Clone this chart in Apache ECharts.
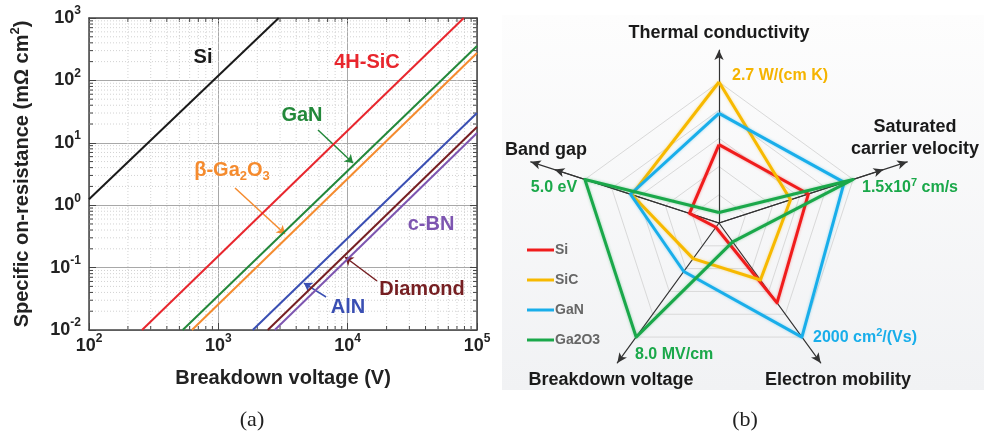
<!DOCTYPE html>
<html>
<head>
<meta charset="utf-8">
<script src="https://cdn.jsdelivr.net/npm/echarts@6/dist/echarts.min.js"></script>
<style>
  html, body { margin: 0; padding: 0; background: #fff; }
  #chart { width: 984px; height: 435px; }
</style>
</head>
<body>
<div id="chart"></div>
<script>
// ---------- (a) specific on-resistance limit lines: [breakdown V, mΩ·cm²] end points ----------
const siRon      = [[100, 1.25], [2930, 1000]];
const sicRon     = [[257, 0.01], [79000, 1000]];
const ganRon     = [[530, 0.01], [100000, 355]];
const ga2o3Ron   = [[625, 0.01], [100000, 275]];
const alnRon     = [[1845, 0.01], [100000, 30]];
const diamondRon = [[2410, 0.01], [100000, 17.9]];
const cbnRon     = [[2730, 0.01], [100000, 14.4]];

// decade tick exponents and minor steps inside each decade
const xTickExps = [2, 3, 4, 5];
const yTickExps = [-2, -1, 0, 1, 2, 3];
const minorSteps = [2, 3, 4, 5, 6, 7, 8, 9];

// ---------- (b) material property radar ----------
const radarAxes = ['Thermal conductivity', 'Band gap', 'Breakdown voltage', 'Electron mobility', 'Saturated carrier velocity'];
const radarMax  = [2.7, 5.0, 8.0, 2000, 1.5];
const siProps    = [1.5, 1.1, 0.3, 1400, 1.0];
const sicProps   = [2.7, 3.25, 2.5, 1000, 0.8];
const ganProps   = [2.1, 3.3, 3.4, 2000, 1.4];
const ga2o3Props = [0.2, 5.0, 8.0, 330, 1.5];
const radarNames = ['Si', 'SiC', 'GaN', 'Ga2O3'];

const FONT = "'Liberation Sans', Arial, sans-serif";

const chart = echarts.init(document.getElementById('chart'), null, { renderer: 'canvas' });

const X_MIN = Math.pow(10, xTickExps[0]), X_MAX = Math.pow(10, xTickExps[xTickExps.length - 1]);
const Y_MIN = Math.pow(10, yTickExps[0]), Y_MAX = Math.pow(10, yTickExps[yTickExps.length - 1]);

// minor decade positions for the dotted grid
const xMinor = [], yMinor = [];
xTickExps.slice(0, -1).forEach(e => minorSteps.forEach(s => xMinor.push([s * Math.pow(10, e), 1])));
yTickExps.slice(0, -1).forEach(e => minorSteps.forEach(s => yMinor.push([1000, s * Math.pow(10, e)])));

const powRich = {
  b: { fontFamily: FONT, fontWeight: 'bold', fontSize: 18, color: '#222', lineHeight: 22 },
  s: { fontFamily: FONT, fontWeight: 'bold', fontSize: 12, color: '#222', lineHeight: 22, padding: [0, 0, 14, 0] }
};
function powLabel(exps) {
  return function (v) {
    const e = Math.round(Math.log10(v));
    if (exps.indexOf(e) < 0) return '';
    return '{b|10}{s|' + e + '}';
  };
}

function minorRender(isX) {
  return function (params, api) {
    const v = api.value(isX ? 0 : 1);
    let a, b;
    if (isX) { a = api.coord([v, Y_MIN]); b = api.coord([v, Y_MAX]); }
    else { a = api.coord([X_MIN, v]); b = api.coord([X_MAX, v]); }
    const grid = { stroke: '#d2d2d2', lineWidth: 1, lineDash: [1, 2] };
    const tick = { stroke: '#444', lineWidth: 1 };
    const L = 4;
    const children = [{ type: 'line', shape: { x1: a[0], y1: a[1], x2: b[0], y2: b[1] }, style: grid }];
    if (isX) {
      children.push({ type: 'line', shape: { x1: a[0], y1: a[1], x2: a[0], y2: a[1] - L }, style: tick });
      children.push({ type: 'line', shape: { x1: b[0], y1: b[1], x2: b[0], y2: b[1] + L }, style: tick });
    } else {
      children.push({ type: 'line', shape: { x1: a[0], y1: a[1], x2: a[0] + L, y2: a[1] }, style: tick });
      children.push({ type: 'line', shape: { x1: b[0], y1: b[1], x2: b[0] - L, y2: b[1] }, style: tick });
    }
    return { type: 'group', children: children };
  };
}

function limitLine(name, data, color, arrow) {
  const s = {
    name: name, type: 'line', data: data, showSymbol: false, symbol: 'none',
    xAxisIndex: 0, yAxisIndex: 0, z: 5,
    lineStyle: { color: color, width: 2 }, itemStyle: { color: color }
  };
  if (arrow) {
    s.markLine = {
      silent: true, symbol: ['none', 'arrow'], symbolSize: 8, animation: false,
      label: { show: false },
      lineStyle: { color: color, width: 1.5, type: 'solid' },
      data: [[{ coord: arrow[0] }, { coord: arrow[1] }]]
    };
  }
  return s;
}

const axisCommon = {
  type: 'log', logBase: 10,
  axisLine: { show: true, lineStyle: { color: '#444', width: 1.5 } },
  axisTick: { show: true, inside: true, length: 7, lineStyle: { color: '#444', width: 1 } },
  minorTick: { show: false },
  splitLine: { show: false }
};

function txt(x, y, text, color, size, opts) {
  opts = opts || {};
  return {
    type: 'text', x: x, y: y, z: 100, silent: true,
    style: Object.assign({
      text: text, fill: color, font: 'bold ' + size + 'px ' + FONT,
      textAlign: opts.align || 'center', textVerticalAlign: 'middle'
    }, opts.style || {})
  };
}

const radarColors = ['#f01c1c', '#f7b900', '#19aeea', '#1aa84a'];
const radarData = [siProps, sicProps, ganProps, ga2o3Props].map((v, i) => ({
  name: radarNames[i], value: v,
  lineStyle: { color: radarColors[i], width: 3, shadowBlur: 3, shadowColor: echarts.color.modifyAlpha(radarColors[i], 0.4) },
  itemStyle: { color: radarColors[i] }
}));
const indicators = radarAxes.map((n, i) => ({ name: n, max: radarMax[i] }));

const RC = [719, 223];
const arrowAxis = {
  show: true, symbol: ['none', 'arrow'], symbolSize: [7, 10],
  lineStyle: { color: '#333', width: 1.2 }
};

const option = {
  animation: false,
  backgroundColor: '#fff',
  grid: [{ left: 89, right: 507, top: 18, bottom: 105 }],
  xAxis: [
    Object.assign({}, axisCommon, {
      gridIndex: 0, position: 'bottom', min: X_MIN, max: X_MAX,
      splitLine: { show: true, lineStyle: { color: '#a8a8a8', width: 1 } },
      axisLabel: { formatter: powLabel(xTickExps), rich: powRich, margin: 5 },
      name: 'Breakdown voltage (V)', nameLocation: 'middle', nameGap: 38,
      nameTextStyle: { fontFamily: FONT, fontWeight: 'bold', fontSize: 20, color: '#222' }
    }),
    Object.assign({}, axisCommon, { gridIndex: 0, position: 'top', min: X_MIN, max: X_MAX, axisLabel: { show: false } })
  ],
  yAxis: [
    Object.assign({}, axisCommon, {
      gridIndex: 0, position: 'left', min: Y_MIN, max: Y_MAX,
      splitLine: { show: true, lineStyle: { color: '#a8a8a8', width: 1 } },
      axisLabel: { formatter: powLabel(yTickExps), rich: powRich, margin: 8 },
      name: '{t|Specific on-resistance (mΩ cm}{u|2}{t|)}', nameLocation: 'middle', nameGap: 55,
      nameTextStyle: {
        rich: {
          t: { fontFamily: FONT, fontWeight: 'bold', fontSize: 20, color: '#222', lineHeight: 24 },
          u: { fontFamily: FONT, fontWeight: 'bold', fontSize: 13, color: '#222', lineHeight: 24, padding: [0, 0, 14, 0] }
        }
      }
    }),
    Object.assign({}, axisCommon, { gridIndex: 0, position: 'right', min: Y_MIN, max: Y_MAX, axisLabel: { show: false } })
  ],
  radar: [
    {
      center: RC, radius: 141, startAngle: 90, splitNumber: 5, shape: 'polygon',
      indicator: indicators,
      axisName: { show: false },
      axisLine: { show: false },
      splitLine: { show: true, lineStyle: { color: '#d9d9d9', width: 1 } },
      splitArea: { show: false }
    },
    {
      center: RC, radius: 173, startAngle: 90, splitNumber: 1, shape: 'polygon',
      indicator: indicators,
      axisName: { show: false }, axisLine: arrowAxis,
      splitLine: { show: false }, splitArea: { show: false }
    },
    {
      center: RC, radius: 198, startAngle: 18, splitNumber: 1, shape: 'polygon',
      indicator: [indicators[4]],
      axisName: { show: false }, axisLine: arrowAxis,
      splitLine: { show: false }, splitArea: { show: false }
    },
    {
      center: RC, radius: 198, startAngle: 162, splitNumber: 1, shape: 'polygon',
      indicator: [indicators[1]],
      axisName: { show: false }, axisLine: arrowAxis,
      splitLine: { show: false }, splitArea: { show: false }
    }
  ],
  legend: {
    data: radarNames, orient: 'vertical', left: 522, top: 237,
    icon: 'rect', itemWidth: 27, itemHeight: 3, itemGap: 14, selectedMode: false,
    textStyle: { fontFamily: FONT, fontWeight: 'bold', fontSize: 14, color: '#666', lineHeight: 16, padding: [0, 0, 0, -4] }
  },
  series: [
    { type: 'custom', name: 'minor-x', coordinateSystem: 'cartesian2d', xAxisIndex: 0, yAxisIndex: 0,
      data: xMinor, renderItem: minorRender(true), silent: true, z: 1 },
    { type: 'custom', name: 'minor-y', coordinateSystem: 'cartesian2d', xAxisIndex: 0, yAxisIndex: 0,
      data: yMinor, renderItem: minorRender(false), silent: true, z: 1 },
    limitLine('Si limit', siRon, '#1a1a1a'),
    limitLine('4H-SiC limit', sicRon, '#e8262d'),
    limitLine('GaN limit', ganRon, '#23883a', [[5900, 16.0], [11000, 4.74]]),
    limitLine('β-Ga2O3 limit', ga2o3Ron, '#f58b2e', [[1346, 1.89], [3278, 0.345]]),
    limitLine('AlN limit', alnRon, '#3a4fb3', [[6810, 0.0338], [4590, 0.0566]]),
    limitLine('Diamond limit', diamondRon, '#761f22', [[16870, 0.061], [9530, 0.148]]),
    limitLine('c-BN limit', cbnRon, '#7d55b0'),
    {
      type: 'radar', radarIndex: 0, symbol: 'none', z: 3,
      data: radarData
    }
  ],
  graphic: [
    {
      type: 'rect', z: -10, silent: true,
      shape: { x: 502, y: 15, width: 482, height: 375 },
      style: {
        fill: new echarts.graphic.LinearGradient(0, 0, 0, 1, [
          { offset: 0, color: '#fdfdfd' }, { offset: 1, color: '#f1f2f4' }
        ])
      }
    },
    // (a) curve labels
    txt(203, 57, 'Si', '#1a1a1a', 20),
    txt(367, 62, '4H-SiC', '#e8262d', 20),
    txt(302, 115, 'GaN', '#23883a', 20),
    {
      type: 'text', x: 232, y: 170, z: 100, silent: true,
      style: {
        text: '{t|β-Ga}{d|2}{t|O}{d|3}', textAlign: 'center', textVerticalAlign: 'middle',
        rich: {
          t: { fontFamily: FONT, fontWeight: 'bold', fontSize: 20, fill: '#f58b2e', color: '#f58b2e', lineHeight: 24 },
          d: { fontFamily: FONT, fontWeight: 'bold', fontSize: 13, fill: '#f58b2e', color: '#f58b2e', lineHeight: 24, padding: [12, 0, 0, 0] }
        }
      }
    },
    txt(431, 224, 'c-BN', '#7d55b0', 20),
    txt(422, 289, 'Diamond', '#761f22', 20),
    txt(348, 307, 'AlN', '#3a4fb3', 20),
    // (b) axis titles
    txt(719, 33, 'Thermal conductivity', '#1a1a1a', 18),
    txt(546, 150, 'Band gap', '#1a1a1a', 18),
    txt(915, 127, 'Saturated', '#1a1a1a', 18),
    txt(915, 149, 'carrier velocity', '#1a1a1a', 18),
    txt(611, 380, 'Breakdown voltage', '#1a1a1a', 18),
    txt(838, 380, 'Electron mobility', '#1a1a1a', 18),
    // (b) value labels
    txt(732, 76, '2.7 W/(cm K)', '#f5b400', 16, { align: 'left' }),
    txt(554, 188, '5.0 eV', '#1aa84a', 16),
    {
      type: 'text', x: 862, y: 188, z: 100, silent: true,
      style: {
        text: '{t|1.5x10}{u|7}{t| cm/s}', textAlign: 'left', textVerticalAlign: 'middle',
        rich: {
          t: { fontFamily: FONT, fontWeight: 'bold', fontSize: 16, fill: '#1aa84a', lineHeight: 20 },
          u: { fontFamily: FONT, fontWeight: 'bold', fontSize: 11, fill: '#1aa84a', lineHeight: 20, padding: [0, 0, 10, 0] }
        }
      }
    },
    {
      type: 'text', x: 813, y: 338, z: 100, silent: true,
      style: {
        text: '{t|2000 cm}{u|2}{t|/(Vs)}', textAlign: 'left', textVerticalAlign: 'middle',
        rich: {
          t: { fontFamily: FONT, fontWeight: 'bold', fontSize: 16, fill: '#19aeea', lineHeight: 20 },
          u: { fontFamily: FONT, fontWeight: 'bold', fontSize: 11, fill: '#19aeea', lineHeight: 20, padding: [0, 0, 10, 0] }
        }
      }
    },
    txt(635, 355, '8.0 MV/cm', '#1aa84a', 16, { align: 'left' }),
    // panel captions
    {
      type: 'text', x: 252, y: 420, z: 100, silent: true,
      style: { text: '(a)', fill: '#222', font: '22px "Liberation Serif", "DejaVu Serif", serif', textAlign: 'center', textVerticalAlign: 'middle' }
    },
    {
      type: 'text', x: 745, y: 420, z: 100, silent: true,
      style: { text: '(b)', fill: '#222', font: '22px "Liberation Serif", "DejaVu Serif", serif', textAlign: 'center', textVerticalAlign: 'middle' }
    }
  ]
};

chart.setOption(option);
</script>
</body>
</html>
